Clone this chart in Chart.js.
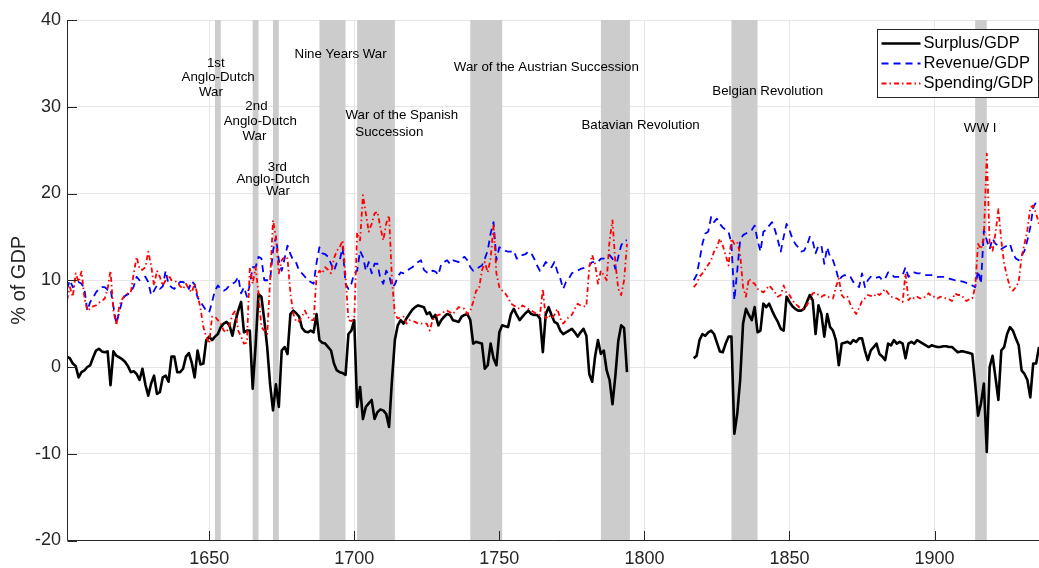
<!DOCTYPE html>
<html>
<head>
<meta charset="utf-8">
<title>Surplus, revenue and spending as % of GDP</title>
<script src="https://cdn.jsdelivr.net/npm/chart.js@4.4.1/dist/chart.umd.min.js"></script>
<style>
  body { margin: 0; background: #fff; }
  canvas { display: block; }
</style>
</head>
<body>
<canvas id="chart" width="1039" height="568"></canvas>
<script>
// two blocks of yearly values, 1601-1794 and 1817-1936, with a gap between
const firstYearA = 1601
const firstYearB = 1817

const surplusA = [
  1.2, 1.0, 0.4, 0.1, -1.2, -0.6, -0.4, 0.0, 0.2, 1.1,
  1.9, 2.1, 1.8, 1.7, 1.8, -2.1, 1.8, 1.3, 1.1, 0.9,
  0.6, 0.1, -0.6, -0.5, -0.8, -1.5, -0.2, -2.0, -3.3, -1.9,
  -1.0, -3.1, -2.9, -1.2, -1.0, -1.7, 1.2, 1.2, -0.6, -0.6,
  -0.2, 1.2, 1.6, 0.5, -1.2, 1.9, 0.3, 0.4, 3.1, 3.5,
  3.1, 3.5, 3.8, 4.6, 5.0, 5.2, 4.8, 3.6, 5.2, 6.5,
  7.5, 4.0, 4.2, 4.2, -2.5, 2.5, 8.4, 8.1, 5.4, 2.3,
  -2.0, -5.0, -2.0, -4.6, 1.9, 2.3, 1.5, 6.1, 6.5, 6.2,
  5.8, 4.5, 4.1, 4.0, 4.2, 4.0, 6.1, 3.1, 2.8, 2.7,
  2.3, 1.9, 0.4, -0.4, -0.6, -0.7, -0.9, 3.8, 4.2, 5.4,
  -4.6, -2.3, -6.0, -4.6, -4.2, -3.8, -6.0, -5.2, -4.9, -5.0,
  -5.4, -6.9, -1.5, 3.1, 4.8, 5.4, 5.0, 5.6, 6.1, 6.6,
  6.9, 7.1, 7.0, 6.9, 6.1, 6.3, 5.6, 6.0, 4.8, 5.4,
  5.8, 6.1, 6.0, 5.4, 5.3, 5.2, 5.8, 6.0, 6.1, 5.4,
  2.7, 2.9, 2.8, 2.7, -0.2, 0.2, 2.7, 1.0, 0.2, 4.0,
  4.8, 4.7, 4.6, 6.1, 6.7, 6.0, 5.4, 5.8, 6.2, 6.5,
  6.1, 6.0, 6.0, 5.6, 1.7, 6.1, 6.9, 6.0, 5.2, 5.0,
  4.2, 3.8, 4.0, 4.2, 4.4, 4.0, 3.5, 4.0, 4.4, 3.6,
  -0.8, -1.7, 1.2, 3.1, 1.5, 1.9, -0.4, -1.5, -4.3, -1.0,
  3.0, 4.8, 4.5, -0.6
]
const surplusB = [
  1.0, 1.3, 3.1, 3.8, 3.6, 4.0, 4.2, 3.8, 2.8, 1.8,
  1.7, 2.7, 3.5, 3.5, -7.7, -5.4, -1.5, 5.0, 6.7, 6.0,
  5.4, 6.9, 4.0, 4.2, 7.3, 6.9, 7.3, 6.5, 5.8, 5.2,
  4.4, 4.2, 8.1, 7.5, 7.0, 6.7, 6.5, 6.5, 6.7, 7.5,
  8.3, 7.7, 3.8, 7.1, 6.1, 3.5, 6.1, 4.6, 4.2, 3.1,
  0.2, 2.7, 2.8, 2.9, 2.7, 3.1, 2.9, 3.3, 3.3, 1.9,
  0.8, 1.9, 2.3, 2.7, 1.5, 1.2, 0.8, 2.7, 2.5, 3.1,
  2.7, 2.9, 2.7, 1.0, 2.7, 2.9, 2.7, 3.1, 2.9, 2.7,
  2.5, 2.3, 2.5, 2.4, 2.3, 2.3, 2.4, 2.4, 2.3, 2.3,
  2.0, 1.7, 1.8, 1.8, 1.7, 1.6, 1.5, -1.9, -5.6, -4.2,
  -1.9, -9.8, 0.0, 1.3, -1.2, -3.8, 1.9, 2.3, 3.8, 4.6,
  4.2, 3.3, 2.5, -0.4, -0.8, -1.5, -3.5, 0.4, 0.4, 2.3
]

const revenueA = [
  9.0, 10.0, 9.2, 9.4, 9.8, 9.6, 9.0, 6.5, 7.5, 8.0,
  8.6, 9.0, 9.2, 9.2, 8.9, 9.0, 7.0, 5.0, 6.3, 7.6,
  8.2, 8.4, 8.6, 9.3, 10.4, 10.0, 10.2, 10.4, 9.8, 8.3,
  8.8, 9.4, 9.0, 9.3, 11.1, 9.5, 9.2, 9.0, 9.5, 9.8,
  9.8, 9.6, 9.0, 9.9, 9.5, 8.0, 7.5, 7.0, 6.5, 6.3,
  7.5, 8.8, 9.4, 9.0, 8.8, 9.0, 9.4, 9.6, 9.8, 10.4,
  8.5, 9.2, 8.1, 9.5, 11.5, 11.5, 12.7, 12.5, 10.0, 10.0,
  10.0, 13.4, 15.0, 12.3, 11.1, 12.5, 14.0, 13.0, 12.3, 12.0,
  11.1, 10.8, 10.4, 10.0, 9.8, 9.6, 12.0, 13.8, 13.1, 13.0,
  12.7, 11.9, 11.1, 12.0, 12.3, 13.8, 9.6, 9.0, 9.6, 10.8,
  11.1, 13.4, 12.7, 11.1, 12.1, 10.8, 11.9, 11.9, 10.2, 9.6,
  11.1, 10.6, 9.2, 9.5, 10.4, 10.9, 10.8, 11.0, 11.3, 11.5,
  11.8, 12.1, 12.3, 11.2, 10.9, 10.8, 11.1, 11.0, 10.6, 11.9,
  12.1, 12.3, 11.9, 12.3, 12.2, 12.1, 12.5, 12.7, 12.3, 11.5,
  11.1, 11.3, 11.5, 11.7, 12.5, 13.4, 15.4, 16.7, 12.3, 13.8,
  13.6, 13.4, 13.3, 13.3, 13.4, 12.5, 12.9, 12.9, 13.0, 13.3,
  13.1, 12.5, 11.7, 11.1, 11.5, 12.1, 11.8, 11.5, 12.1, 11.0,
  10.2, 9.0, 9.8, 10.2, 10.8, 11.0, 11.1, 11.3, 11.4, 11.5,
  11.7, 12.1, 12.1, 12.1, 12.5, 12.5, 12.7, 12.9, 12.5, 11.3,
  12.7, 14.0, 14.6, 14.6
]
const revenueB = [
  10.0, 10.6, 12.3, 14.2, 15.4, 15.6, 17.3, 16.7, 17.1, 16.5,
  16.1, 15.8, 15.6, 14.2, 7.7, 11.1, 14.6, 15.2, 15.4, 15.6,
  15.8, 16.3, 14.6, 13.3, 15.6, 15.8, 16.3, 16.7, 15.8, 14.6,
  13.3, 15.0, 16.5, 15.8, 14.8, 14.2, 13.8, 13.3, 13.4, 14.0,
  15.0, 14.5, 13.1, 14.0, 14.0, 11.9, 13.8, 12.7, 12.3, 11.3,
  10.0, 10.4, 10.6, 10.4, 10.4, 9.8, 9.5, 9.2, 10.8, 9.2,
  10.0, 10.4, 10.2, 10.3, 10.4, 10.0, 10.2, 10.9, 10.8, 10.4,
  10.4, 10.4, 10.6, 11.5, 10.4, 10.6, 10.9, 10.8, 10.8, 10.7,
  10.6, 10.6, 10.6, 10.5, 10.4, 10.4, 10.4, 10.3, 10.2, 10.1,
  10.0, 10.0, 9.9, 9.8, 9.7, 9.6, 9.4, 9.2, 11.1, 9.6,
  15.8, 14.6, 13.6, 14.8, 14.2, 14.0, 13.6, 13.8, 14.0, 14.2,
  13.1, 12.5, 12.3, 12.8, 13.4, 14.6, 16.1, 18.4, 19.0, 18.8
]

const spendingA = [
  7.7, 9.2, 8.1, 10.8, 9.8, 11.0, 8.0, 6.5, 6.7, 7.0,
  7.1, 7.4, 7.6, 7.9, 9.0, 11.1, 6.5, 4.8, 7.0, 7.8,
  8.3, 8.5, 8.6, 10.8, 12.7, 11.3, 11.2, 11.5, 13.3, 11.7,
  9.4, 11.1, 10.4, 9.4, 10.0, 10.6, 10.0, 9.9, 9.8, 9.3,
  9.0, 9.6, 9.0, 8.6, 9.6, 8.3, 6.8, 4.6, 3.5, 2.7,
  5.8, 5.8, 5.4, 5.0, 4.2, 4.0, 4.8, 6.0, 6.5, 4.2,
  3.5, 2.7, 2.8, 11.5, 9.6, 11.5, 8.5, 4.6, 4.2, 3.8,
  10.0, 16.9, 15.0, 10.8, 12.3, 12.7, 12.5, 8.5, 6.1, 5.2,
  5.3, 5.8, 6.5, 5.8, 5.4, 5.4, 10.4, 11.1, 10.8, 11.5,
  11.2, 10.8, 12.5, 13.4, 13.8, 14.6, 10.4, 5.4, 5.3, 5.5,
  15.5, 14.6, 19.8, 17.7, 15.6, 16.5, 17.7, 17.9, 16.1, 14.6,
  16.5, 17.5, 10.0, 6.1, 5.6, 5.7, 5.8, 5.0, 5.4, 5.3,
  5.2, 5.0, 5.0, 5.0, 5.0, 4.2, 5.4, 5.8, 6.0, 6.1,
  6.4, 6.5, 6.3, 6.1, 6.5, 6.9, 6.8, 6.7, 6.1, 6.5,
  7.5, 8.8, 9.0, 11.1, 12.1, 10.9, 12.5, 16.3, 10.8, 9.2,
  8.8, 8.5, 8.0, 7.3, 7.1, 6.9, 6.7, 7.1, 6.9, 6.7,
  6.5, 6.3, 6.1, 6.0, 9.0, 5.6, 6.0, 5.6, 6.0, 6.7,
  5.6, 5.0, 5.4, 5.8, 6.0, 6.7, 7.3, 7.1, 7.0, 7.0,
  11.5, 12.9, 11.9, 9.6, 11.1, 10.6, 10.0, 14.6, 16.9, 12.0,
  9.0, 8.3, 10.0, 14.2
]
const spendingB = [
  9.2, 9.6, 10.4, 10.8, 11.3, 11.8, 12.3, 13.3, 13.8, 14.8,
  14.0, 12.9, 11.7, 14.8, 14.2, 14.4, 13.0, 9.2, 8.1, 10.2,
  9.8, 9.6, 9.0, 8.8, 8.6, 9.0, 9.4, 9.0, 8.6, 8.1,
  8.3, 9.4, 8.5, 8.3, 7.7, 7.3, 7.0, 6.7, 6.7, 7.1,
  7.8, 8.5, 8.6, 8.3, 8.1, 8.3, 8.1, 8.0, 7.9, 9.2,
  10.2, 8.3, 7.9, 8.1, 7.2, 6.6, 6.1, 6.8, 7.6, 7.9,
  8.3, 8.2, 8.1, 8.5, 8.3, 8.6, 9.0, 8.5, 8.1, 8.0,
  7.9, 7.7, 7.5, 10.8, 7.7, 8.1, 7.9, 8.1, 7.9, 7.9,
  8.2, 8.5, 8.1, 8.1, 7.9, 8.1, 8.0, 7.9, 7.8, 7.6,
  8.5, 8.3, 8.3, 8.0, 7.6, 7.8, 7.9, 9.2, 14.2, 13.6,
  15.0, 24.6, 14.2, 13.4, 15.4, 18.2, 14.6, 11.9, 10.4, 9.2,
  8.8, 9.2, 9.8, 12.7, 14.2, 15.8, 18.4, 18.6, 17.7, 16.5
]

// shaded war periods
const warStart = [1652, 1665, 1672, 1688, 1701, 1740, 1785, 1830, 1914]
const warEnd   = [1654, 1667, 1674, 1697, 1714, 1751, 1795, 1839, 1918]

// text labels: one entry per line, placed in data coordinates (year, %)
const noteText = ['1st', 'Anglo-Dutch', 'War', '2nd', 'Anglo-Dutch', 'War',
  '3rd', 'Anglo-Dutch', 'War', 'Nine Years War', 'War of the Spanish', 'Succession',
  'War of the Austrian Succession', 'Batavian Revolution', 'Belgian Revolution', 'WW I']
const noteYear = [1652.3, 1653.1, 1650.6, 1666.3, 1667.6, 1665.6,
  1673.5, 1672.0, 1673.7, 1695.3, 1716.4, 1712.1, 1766.2, 1798.7, 1842.5, 1915.7]
const noteValue = [35.0, 33.4, 31.7, 30.0, 28.3, 26.6,
  23.0, 21.6, 20.2, 36.0, 29.0, 27.1, 34.5, 27.8, 31.8, 27.5]

const xTicks = [1650, 1700, 1750, 1800, 1850, 1900]
const yTicks = [-20, -10, 0, 10, 20, 30, 40]

const FONT = '"Liberation Sans", Arial, Helvetica, sans-serif'
const AXIS = '#262626'

function series(a, b) {
  const pts = a.map((v, i) => ({x: firstYearA + i, y: v}))
  pts.push({x: firstYearA + a.length + 5, y: null})
  return pts.concat(b.map((v, i) => ({x: firstYearB + i, y: v})))
}

const warBands = {
  id: 'warBands',
  beforeDatasetsDraw(chart) {
    const {ctx, chartArea, scales: {x}} = chart
    ctx.save()
    ctx.fillStyle = '#cccccc'
    for (let i = 0; i < warStart.length; i++) {
      const x0 = x.getPixelForValue(warStart[i])
      const x1 = x.getPixelForValue(warEnd[i])
      ctx.fillRect(x0, chartArea.top, x1 - x0, chartArea.bottom - chartArea.top)
    }
    ctx.restore()
  }
}

// axis lines with inward ticks, like the original plot
const axisLines = {
  id: 'axisLines',
  afterDatasetsDraw(chart) {
    const {ctx, chartArea: a, scales: {x, y}} = chart
    const left = Math.round(a.left) + 0.5
    const bottom = Math.floor(a.bottom) + 0.5
    ctx.save()
    ctx.strokeStyle = AXIS
    ctx.lineWidth = 1
    ctx.beginPath()
    ctx.moveTo(left, a.top)
    ctx.lineTo(left, bottom)
    ctx.lineTo(a.right, bottom)
    xTicks.forEach(t => {
      const px = Math.round(x.getPixelForValue(t)) + 0.5
      ctx.moveTo(px, bottom)
      ctx.lineTo(px, bottom - 9.5)
    })
    yTicks.forEach(t => {
      const py = Math.round(y.getPixelForValue(t)) + 0.5
      ctx.moveTo(left, py)
      ctx.lineTo(left + 9.5, py)
    })
    ctx.stroke()

    ctx.fillStyle = '#000'
    ctx.font = '13.3px ' + FONT
    ctx.textAlign = 'center'
    ctx.textBaseline = 'middle'
    noteText.forEach((t, i) => {
      ctx.fillText(t, x.getPixelForValue(noteYear[i]), y.getPixelForValue(noteValue[i]))
    })
    ctx.restore()
  }
}

const legendBox = {
  id: 'legendBox',
  afterDraw(chart) {
    const {ctx, chartArea: a} = chart
    const w = 162, h = 68
    const left = Math.round(a.right - w) + 0.5
    const top = Math.round(a.top + 9) + 0.5
    ctx.save()
    ctx.fillStyle = '#fff'
    ctx.fillRect(left, top, w - 1, h)
    ctx.strokeStyle = AXIS
    ctx.lineWidth = 1
    ctx.strokeRect(left, top, w - 1, h)
    chart.data.datasets.forEach((ds, i) => {
      const yy = top + 14 + i * 20
      ctx.beginPath()
      ctx.setLineDash(ds.borderDash || [])
      ctx.strokeStyle = ds.borderColor
      ctx.lineWidth = ds.borderWidth
      ctx.moveTo(left + 4, yy)
      ctx.lineTo(left + 43, yy)
      ctx.stroke()
      ctx.setLineDash([])
      ctx.fillStyle = '#000'
      ctx.font = '16.5px ' + FONT
      ctx.textAlign = 'left'
      ctx.textBaseline = 'middle'
      ctx.fillText(ds.label, left + 46, yy)
    })
    ctx.restore()
  }
}

new Chart(document.getElementById('chart'), {
  type: 'line',
  data: {
    datasets: [
      {
        label: 'Surplus/GDP',
        data: series(surplusA, surplusB),
        borderColor: '#000000',
        borderWidth: 2.6,
        order: 2
      },
      {
        label: 'Revenue/GDP',
        data: series(revenueA, revenueB),
        borderColor: '#0000ff',
        borderWidth: 1.8,
        borderDash: [7, 5],
        order: 1
      },
      {
        label: 'Spending/GDP',
        data: series(spendingA, spendingB),
        borderColor: '#ff0000',
        borderWidth: 1.8,
        borderDash: [5, 3, 1.5, 3],
        order: 0
      }
    ]
  },
  options: {
    responsive: false,
    animation: false,
    spanGaps: false,
    elements: {
      point: {radius: 0},
      line: {tension: 0, borderJoinStyle: 'round', fill: false}
    },
    layout: {padding: {top: 20, right: 0, bottom: 0, left: 0}},
    plugins: {
      legend: {display: false},
      tooltip: {enabled: false}
    },
    scales: {
      x: {
        type: 'linear',
        min: 1601,
        max: 1936,
        afterBuildTicks: s => { s.ticks = xTicks.map(v => ({value: v})) },
        afterFit: s => { s.height = 27.5 },
        grid: {color: '#e6e6e6', drawTicks: false},
        border: {display: false},
        ticks: {
          padding: 8,
          autoSkip: false,
          maxRotation: 0,
          color: AXIS,
          font: {family: FONT, size: 18},
          callback: v => String(v)
        }
      },
      y: {
        min: -20,
        max: 40,
        afterBuildTicks: s => { s.ticks = yTicks.map(v => ({value: v})) },
        afterFit: s => { s.width = 67 },
        grid: {color: '#e6e6e6', drawTicks: false},
        border: {display: false},
        ticks: {
          padding: 6,
          color: AXIS,
          font: {family: FONT, size: 18},
          callback: v => String(v)
        },
        title: {
          display: true,
          text: '% of GDP',
          color: AXIS,
          font: {family: FONT, size: 20},
          padding: {top: 7, bottom: 0}
        }
      }
    }
  },
  plugins: [warBands, axisLines, legendBox]
})
</script>
</body>
</html>
